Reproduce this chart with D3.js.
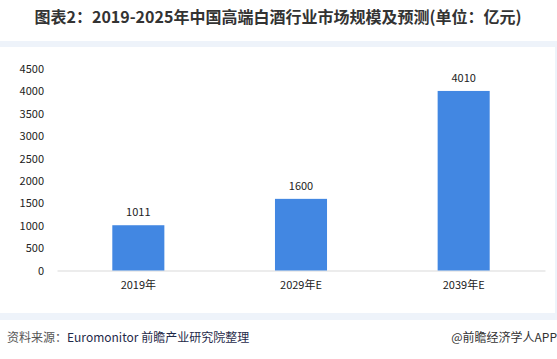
<!DOCTYPE html>
<html><head><meta charset="utf-8">
<script src="https://cdn.jsdelivr.net/npm/d3@7"></script>
<style>body{margin:0;background:#fff;}svg{display:block;}</style>
</head><body>
<svg id="c" width="557" height="359"></svg>
<script>
const categories = ["2019年", "2029年E", "2039年E"];
const values = [1011, 1600, 4010];
const yTicks = [0, 500, 1000, 1500, 2000, 2500, 3000, 3500, 4000, 4500];
const titleText = "图表2：2019-2025年中国高端白酒行业市场规模及预测(单位：亿元)";

const svg = d3.select("#c");
const font = "'Noto Sans CJK SC', 'Noto Sans', sans-serif";

// frame bands
svg.append("rect").attr("x", 0).attr("y", 41).attr("width", 557).attr("height", 6).attr("fill", "#eef3fa");
svg.append("rect").attr("x", 0).attr("y", 313).attr("width", 557).attr("height", 7).attr("fill", "#eef3fa");
svg.append("rect").attr("x", 555).attr("y", 41).attr("width", 2).attr("height", 279).attr("fill", "#eef3fa");

svg.append("text").attr("x", 278).attr("y", 23).attr("text-anchor", "middle")
  .attr("font-family", font).attr("font-weight", "bold").attr("font-size", 16)
  .attr("fill", "#333").text(titleText);

const x = d3.scaleBand().domain(categories).range([57, 545]).paddingInner(0.68).paddingOuter(0.34);
const y = d3.scaleLinear().domain([0, 4500]).range([270.5, 69]);

const yAxis = d3.axisLeft(y).tickValues(yTicks).tickSize(0).tickPadding(0).tickFormat(d3.format("d"));
const gy = svg.append("g").attr("transform", "translate(44,0)").call(yAxis);
gy.select(".domain").remove();
gy.selectAll("text").attr("font-family", font).attr("font-size", 11).attr("fill", "#222");

const xAxis = d3.axisBottom(x).tickSize(0).tickPadding(11);
const gx = svg.append("g").attr("transform", "translate(0,270.5)").call(xAxis);
gx.select(".domain").attr("stroke", "#d9d9d9").attr("stroke-width", 1);
gx.selectAll("text").attr("font-family", font).attr("font-size", 11).attr("fill", "#222");

svg.selectAll("rect.bar").data(values).join("rect").attr("class", "bar")
  .attr("x", (d, i) => x(categories[i])).attr("width", x.bandwidth())
  .attr("y", d => y(d)).attr("height", d => y(0) - y(d)).attr("fill", "#4287e2");

svg.selectAll("text.lbl").data(values).join("text").attr("class", "lbl")
  .attr("x", (d, i) => x(categories[i]) + x.bandwidth() / 2).attr("y", d => y(d) - 9)
  .attr("text-anchor", "middle").attr("font-family", font).attr("font-size", 11).attr("fill", "#222")
  .text(d => d);

const f = svg.append("text").attr("x", 7).attr("y", 342).attr("font-family", font).attr("font-size", 12);
f.append("tspan").attr("fill", "#555").text("资料来源：");
f.append("tspan").attr("fill", "#1f2a4a").text("Euromonitor 前瞻产业研究院整理");
svg.append("text").attr("x", 557).attr("y", 342).attr("text-anchor", "end")
  .attr("font-family", font).attr("font-size", 12).attr("fill", "#333").text("@前瞻经济学人APP");
</script>
</body></html>
